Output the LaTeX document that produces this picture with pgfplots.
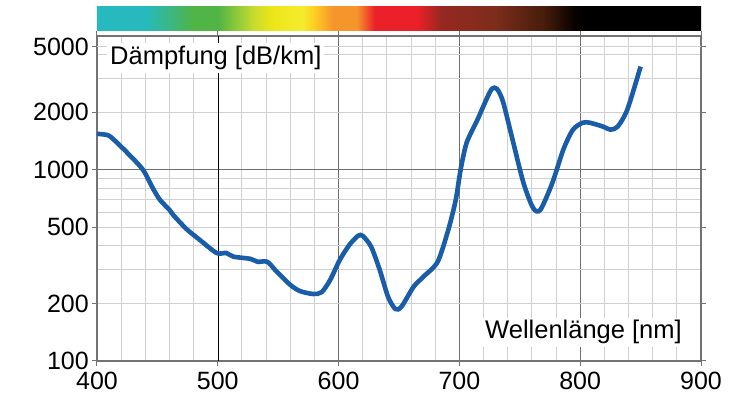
\documentclass[border=0pt]{standalone}
\usepackage{fontspec}
\setmainfont{Liberation Sans}
\usepackage{pgfplots}
\pgfplotsset{compat=1.18}
\definecolor{curve}{RGB}{25,92,168}
\definecolor{gmin}{RGB}{208,208,208}
\definecolor{gmaj}{RGB}{110,110,110}
\definecolor{axc}{RGB}{115,115,115}
\definecolor{cTeal}{RGB}{38,186,190}
\definecolor{cGreen}{RGB}{80,180,70}
\definecolor{cYG}{RGB}{200,220,45}
\definecolor{cYel}{RGB}{236,230,25}
\definecolor{cYel2}{RGB}{245,236,45}
\definecolor{cYO}{RGB}{255,205,35}
\definecolor{cOr}{RGB}{245,150,45}
\definecolor{cRed}{RGB}{236,32,40}
\definecolor{cDR}{RGB}{150,40,32}
\definecolor{cBr}{RGB}{125,45,28}
\definecolor{cDB}{RGB}{70,28,10}
\definecolor{cBk}{RGB}{8,2,0}
\pgfdeclarehorizontalshading{spec}{100bp}{color(0bp)=(cTeal); color(25bp)=(cTeal); color(29bp)=(cTeal); color(33bp)=(cGreen); color(35bp)=(cGreen); color(38bp)=(cYG); color(39.5bp)=(cYel); color(42bp)=(cYel2); color(43bp)=(cYO); color(44.5bp)=(cOr); color(46.5bp)=(cOr); color(48bp)=(cRed); color(51.5bp)=(cRed); color(53.5bp)=(cDR); color(58bp)=(cBr); color(62bp)=(cDB); color(64.5bp)=(cBk); color(65.5bp)=(black); color(100bp)=(black)}
\begin{document}
\begin{tikzpicture}
\begin{axis}[
  name=ax,
  scale only axis,
  width=604pt, height=325pt,
  xmin=400, xmax=900,
  ymode=log, ymin=100, ymax=5000,
  xtick={400,600,700,800,900},
  extra x ticks={500},
  extra x tick style={grid=none},
  minor xtick={420,440,460,480,520,540,560,580,620,640,660,680,720,740,760,780,820,840,860,880},
  ytick={100,200,500,1000,2000},
  yticklabels={100,200,500,1000,2000},
  minor ytick={300,400,600,700,800,900,3000,4000},
  extra y ticks={4400},
  extra y tick labels={5000},
  xmajorgrids, xminorgrids, ymajorgrids, yminorgrids,
  major x grid style={gmaj, line width=0.9pt},
  minor x grid style={gmin, line width=1pt},
  major y grid style={gmin, line width=1pt},
  minor y grid style={gmin, line width=1pt},
  axis line style={axc, line width=1.1pt},
  tick align=outside,
  major tick length=5pt,
  minor tick length=0pt,
  tick style={axc, line width=1pt},
  /pgf/number format/assume math mode=true,
  ticklabel style={font=\fontsize{25}{27}\selectfont},
  xticklabel style={inner sep=6pt},
  yticklabel style={inner sep=3pt},
  clip=false,
]
\draw[gmaj, line width=0.9pt] (axis cs:400,1000) -- (axis cs:900,1000);
\draw[black, line width=0.5pt] (axis cs:500,100) -- (axis cs:500,5000);
\shade[shading=spec] (rel axis cs:0,1.0154) rectangle (rel axis cs:1,1.0892);
\addplot[curve, line width=4.6pt, smooth, tension=0.45] coordinates {
(400,1540) (405,1530) (411,1490) (425,1227) (438,1000) (446,805) (452,697)
(460,617) (463,581) (474,490) (485,430) (499,367) (507,367) (513,351)
(527,342) (533,330) (541,330) (549,292) (560,250) (568,232) (579,224)
(586,229) (593,265) (601,338) (609,405) (616,451) (620,451) (627,395)
(634,300) (641,216) (647,187) (652,192) (662,244) (670,275) (682,330)
(691,490) (697,697) (701,1000) (706,1384) (715,1828) (723,2380) (727,2650)
(731,2650) (736,2280) (744,1435) (753,855) (761,631) (767,617) (777,855)
(786,1273) (794,1619) (802,1760) (808,1760) (819,1679) (825,1619) (831,1679)
(839,2061) (850,3459)
};
\node[fill=white, inner sep=3pt, anchor=base west, font=\fontsize{25.5}{27}\selectfont] at (rel axis cs:0.0166,0.911) {Dämpfung [dB/km]};
\node[fill=white, inner sep=3pt, anchor=base east, font=\fontsize{25.5}{27}\selectfont] at (rel axis cs:0.9735,0.0677) {Wellenlänge [nm]};
\end{axis}
\path[use as bounding box] ([xshift=-97pt,yshift=-33pt]ax.south west) rectangle ([xshift=48pt,yshift=36pt]ax.north east);
\end{tikzpicture}
\end{document}
